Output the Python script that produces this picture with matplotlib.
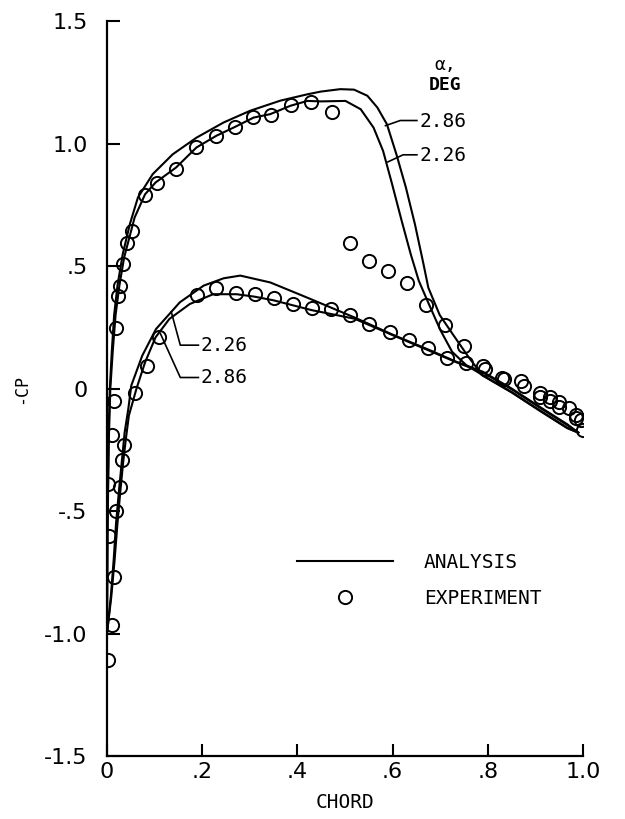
import matplotlib
matplotlib.use("Agg")
from matplotlib import pyplot as plt
from matplotlib.lines import Line2D

# experiment (one set of circles, upper + lower surface)
exp_chord = [0.003, 0.010, 0.014, 0.005, 0.018, 0.003, 0.027, 0.031, 0.035, 0.010,
             0.015, 0.058, 0.084, 0.110, 0.19, 0.23, 0.27, 0.31, 0.35, 0.39,
             0.43, 0.47, 0.51, 0.55, 0.595, 0.635, 0.675, 0.715, 0.755, 0.795,
             0.835, 0.875, 0.91, 0.93, 0.95, 0.985, 1.0,
             0.019, 0.024, 0.028, 0.034, 0.042, 0.053, 0.079, 0.104, 0.145, 0.186,
             0.229, 0.269, 0.307, 0.345, 0.386, 0.429, 0.472,
             0.51, 0.55, 0.59, 0.63, 0.67, 0.71, 0.75, 0.79, 0.83, 0.87,
             0.91, 0.93, 0.95, 0.97, 0.985, 0.995]
exp_cp = [-1.11, -0.965, -0.77, -0.60, -0.50, -0.39, -0.40, -0.29, -0.23, -0.19,
          -0.05, -0.02, 0.09, 0.21, 0.38, 0.41, 0.39, 0.385, 0.37, 0.345,
          0.33, 0.325, 0.30, 0.265, 0.23, 0.20, 0.165, 0.125, 0.105, 0.08,
          0.04, 0.01, -0.035, -0.05, -0.075, -0.12, -0.17,
          0.246, 0.378, 0.419, 0.510, 0.592, 0.644, 0.791, 0.838, 0.897, 0.986,
          1.029, 1.069, 1.109, 1.117, 1.158, 1.171, 1.129,
          0.595, 0.52, 0.48, 0.43, 0.34, 0.26, 0.175, 0.09, 0.045, 0.03,
          -0.02, -0.035, -0.055, -0.08, -0.11, -0.13]

# analysis, upper surface
up286_x = [0.0, 0.001, 0.003, 0.006, 0.010, 0.015, 0.022, 0.033, 0.048, 0.065, 0.096,
           0.138, 0.188, 0.245, 0.301, 0.364, 0.421, 0.449, 0.49, 0.519, 0.547, 0.568,
           0.588, 0.608, 0.628, 0.647, 0.665, 0.675, 0.699, 0.727, 0.759, 0.789, 0.85,
           0.91, 0.967, 0.99]
up286_y = [-1.0, -0.6, -0.2, 0.0, 0.15, 0.30, 0.42, 0.548, 0.671, 0.78, 0.875,
           0.956, 1.024, 1.086, 1.134, 1.175, 1.201, 1.212, 1.222, 1.22, 1.195, 1.147,
           1.079, 0.956, 0.82, 0.67, 0.507, 0.412, 0.30, 0.22, 0.13, 0.053, -0.016,
           -0.092, -0.162, -0.18]
up226_x = [0.0, 0.001, 0.004, 0.007, 0.012, 0.018, 0.026, 0.036, 0.058, 0.080, 0.102,
           0.145, 0.188, 0.230, 0.269, 0.308, 0.343, 0.385, 0.421, 0.449, 0.501, 0.533,
           0.560, 0.580, 0.599, 0.619, 0.638, 0.655, 0.675, 0.70, 0.725, 0.755, 0.789,
           0.85, 0.91, 0.967, 0.99]
up226_y = [-1.0, -0.6, -0.2, 0.0, 0.15, 0.30, 0.42, 0.535, 0.698, 0.793, 0.841,
           0.902, 0.984, 1.032, 1.068, 1.106, 1.12, 1.154, 1.174, 1.172, 1.174, 1.14,
           1.065, 0.97, 0.834, 0.685, 0.549, 0.44, 0.35, 0.24, 0.15, 0.095, 0.055,
           -0.014, -0.09, -0.16, -0.18]

# analysis, lower surface
lo226_x = [0.0, 0.008, 0.014, 0.019, 0.025, 0.031, 0.037, 0.045, 0.051, 0.074, 0.103,
           0.153, 0.203, 0.245, 0.280, 0.343, 0.412, 0.454, 0.52, 0.60, 0.68, 0.733,
           0.789, 0.85, 0.91, 0.967, 0.99]
lo226_y = [-1.0, -0.85, -0.70, -0.55, -0.42, -0.30, -0.18, -0.08, 0.012, 0.134, 0.243,
           0.352, 0.42, 0.45, 0.461, 0.433, 0.378, 0.344, 0.29, 0.22, 0.155, 0.11,
           0.069, 0.0, -0.076, -0.146, -0.18]
lo286_x = [0.0, 0.009, 0.016, 0.022, 0.028, 0.034, 0.040, 0.046, 0.062, 0.080, 0.102,
           0.131, 0.174, 0.223, 0.272, 0.31, 0.35, 0.39, 0.43, 0.52, 0.60, 0.68, 0.733,
           0.789, 0.85, 0.91, 0.967, 0.99]
lo286_y = [-1.0, -0.85, -0.70, -0.55, -0.42, -0.30, -0.20, -0.11, 0.0, 0.107, 0.209,
           0.284, 0.345, 0.385, 0.385, 0.375, 0.36, 0.34, 0.32, 0.285, 0.218, 0.152,
           0.108, 0.066, -0.003, -0.079, -0.149, -0.18]

xticks = [0, 0.2, 0.4, 0.6, 0.8, 1.0]
xtick_labels = ["0", ".2", ".4", ".6", ".8", "1.0"]
yticks = [-1.5, -1.0, -0.5, 0, 0.5, 1.0, 1.5]
ytick_labels = ["-1.5", "-1.0", "-.5", "0", ".5", "1.0", "1.5"]

MONO = "DejaVu Sans Mono"

fig = plt.figure(figsize=(6.25, 8.19), dpi=100)
ax = fig.add_axes([0.1712, 0.0769, 0.7616, 0.8974])

lw = 1.5
for xs, ys in [(up286_x, up286_y), (up226_x, up226_y), (lo226_x, lo226_y), (lo286_x, lo286_y)]:
    ax.plot(xs, ys, color="black", lw=lw, solid_joinstyle="round")
ax.plot(exp_chord, exp_cp, linestyle="none", marker="o", markersize=9.5,
        markerfacecolor="none", markeredgecolor="black", markeredgewidth=1.4)

ax.set_xlim(0, 1.0)
ax.set_ylim(-1.5, 1.5)
ax.spines["top"].set_visible(False)
ax.spines["right"].set_visible(False)
for s in ["left", "bottom"]:
    ax.spines[s].set_linewidth(1.6)

ax.set_xticks(xticks)
ax.set_xticklabels(xtick_labels)
ax.set_yticks(yticks)
ax.set_yticklabels(ytick_labels)
ax.tick_params(axis="both", direction="in", length=9, width=1.5, labelsize=16)
ax.tick_params(axis="x", pad=4)
ax.tick_params(axis="y", pad=14)

ax.set_xlabel("CHORD", family=MONO, fontsize=14, labelpad=8)
ax.set_ylabel("-CP", family=MONO, fontsize=12, labelpad=10)

# alpha labels and leaders
ax.text(0.71, 1.32, "α,", family=MONO, fontsize=13, ha="center", va="center")
ax.text(0.71, 1.24, "DEG", family=MONO, fontsize=13, fontweight="bold", ha="center", va="center")

leaders = {
    "2.86 up": ([0.585, 0.616, 0.651], [1.073, 1.094, 1.094], (0.657, 1.09)),
    "2.26 up": ([0.590, 0.622, 0.651], [0.925, 0.954, 0.954], (0.657, 0.952)),
    "2.26 lo": ([0.135, 0.154, 0.192], [0.313, 0.177, 0.177], (0.197, 0.175)),
    "2.86 lo": ([0.112, 0.154, 0.192], [0.225, 0.045, 0.045], (0.197, 0.043)),
}
for key, (lx, ly, (tx, ty)) in leaders.items():
    ax.plot(lx, ly, color="black", lw=1.2)
    ax.text(tx, ty, key.split()[0], family=MONO, fontsize=14, ha="left", va="center")

handles = [Line2D([], [], color="black", lw=lw),
           Line2D([], [], linestyle="none", marker="o", markersize=9.5,
                  markerfacecolor="none", markeredgecolor="black", markeredgewidth=1.4)]
ax.legend(handles, ["ANALYSIS", "EXPERIMENT"], loc="upper left",
          bbox_to_anchor=(0.40, 0.276), frameon=False, borderpad=0, borderaxespad=0,
          handlelength=4.9, handletextpad=1.6, labelspacing=0.85,
          prop={"family": MONO, "size": 14})

fig.savefig("out.png", dpi=100)
